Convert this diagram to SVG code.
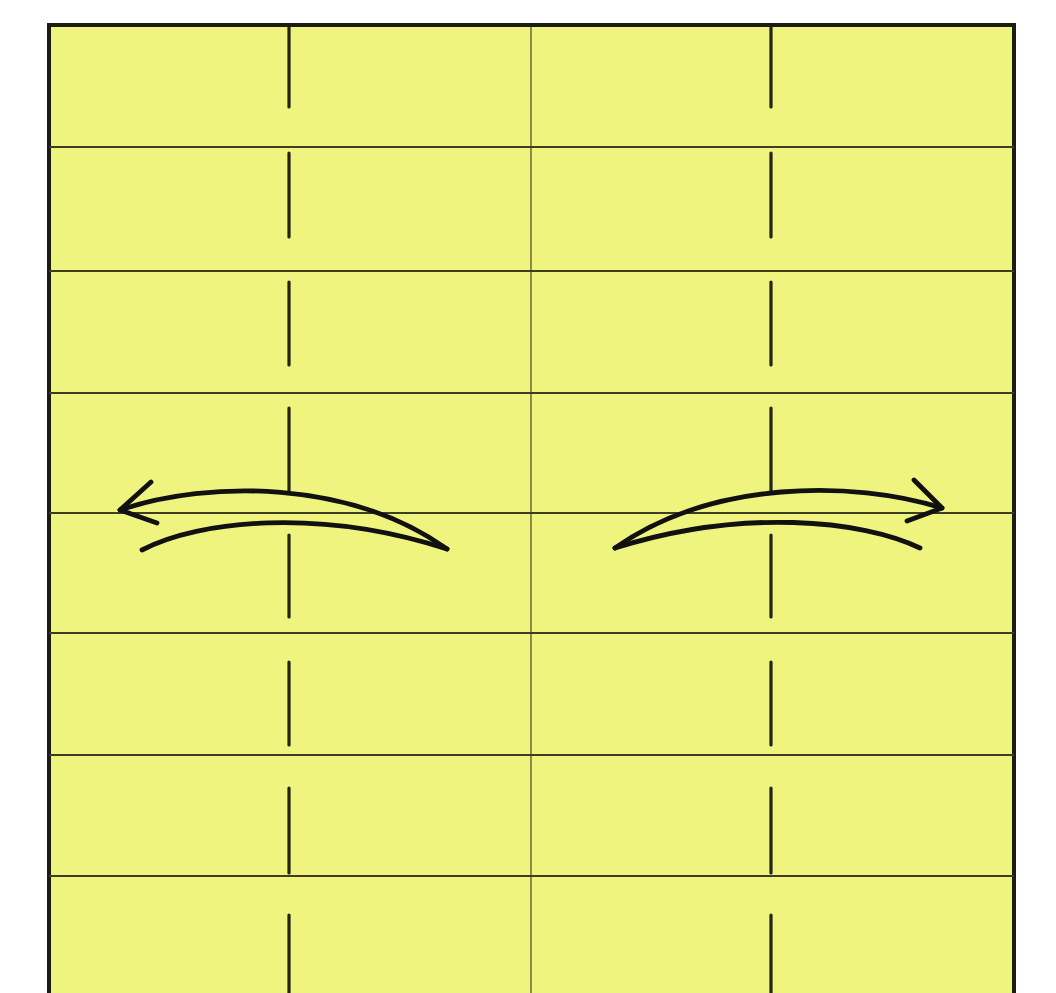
<svg xmlns="http://www.w3.org/2000/svg" width="1056" height="993" viewBox="0 0 1056 993">
  <defs>
    <style>
      .paper { fill: #eff47e; stroke: #1c1c12; stroke-width: 4; }
      .crease { stroke: #3d3d24; stroke-width: 2; fill: none; }
      .center { stroke: #55552e; stroke-width: 1.3; fill: none; }
      .valley { stroke: #23230f; stroke-width: 3.2; stroke-linecap: round; fill: none; }
      .arrow { stroke: #111; stroke-width: 4.8; stroke-linecap: round; stroke-linejoin: round; fill: none; }
    </style>
  </defs>
  <rect width="1056" height="993" fill="#ffffff"/>
  <g id="paper">
    <rect class="paper" x="49" y="25" width="965" height="990"/>
  </g>
  <g id="creases">
    <line class="center" x1="531" y1="27" x2="531" y2="993"/>
    <line class="crease" x1="49" y1="147" x2="1014" y2="147"/>
    <line class="crease" x1="49" y1="271" x2="1014" y2="271"/>
    <line class="crease" x1="49" y1="393" x2="1014" y2="393"/>
    <line class="crease" x1="49" y1="513" x2="1014" y2="513"/>
    <line class="crease" x1="49" y1="633" x2="1014" y2="633"/>
    <line class="crease" x1="49" y1="755" x2="1014" y2="755"/>
    <line class="crease" x1="49" y1="876" x2="1014" y2="876"/>
  </g>
  <g id="valley-left">
    <line class="valley" x1="289" y1="27" x2="289" y2="107"/>
    <line class="valley" x1="289" y1="153" x2="289" y2="237"/>
    <line class="valley" x1="289" y1="282" x2="289" y2="365"/>
    <line class="valley" x1="289" y1="408" x2="289" y2="491"/>
    <line class="valley" x1="289" y1="535" x2="289" y2="617"/>
    <line class="valley" x1="289" y1="662" x2="289" y2="745"/>
    <line class="valley" x1="289" y1="788" x2="289" y2="873"/>
    <line class="valley" x1="289" y1="915" x2="289" y2="995"/>
  </g>
  <g id="valley-right">
    <line class="valley" x1="771" y1="27" x2="771" y2="107"/>
    <line class="valley" x1="771" y1="153" x2="771" y2="237"/>
    <line class="valley" x1="771" y1="282" x2="771" y2="365"/>
    <line class="valley" x1="771" y1="408" x2="771" y2="491"/>
    <line class="valley" x1="771" y1="535" x2="771" y2="617"/>
    <line class="valley" x1="771" y1="662" x2="771" y2="745"/>
    <line class="valley" x1="771" y1="788" x2="771" y2="873"/>
    <line class="valley" x1="771" y1="915" x2="771" y2="995"/>
  </g>
  <g id="connectors">
    <g id="arrow-left">
      <path class="arrow" d="M120,510 C210,480 350,480 447,549"/>
      <path class="arrow" d="M142,550 C200,520 320,508 447,549"/>
      <path class="arrow" d="M151,482 L120,510 L157,523"/>
    </g>
    <g id="arrow-right">
      <path class="arrow" d="M942,508 C852,480 712,480 615,548"/>
      <path class="arrow" d="M920,548 C862,520 742,508 615,548"/>
      <path class="arrow" d="M914,480 L942,508 L907,521"/>
    </g>
  </g>
</svg>
